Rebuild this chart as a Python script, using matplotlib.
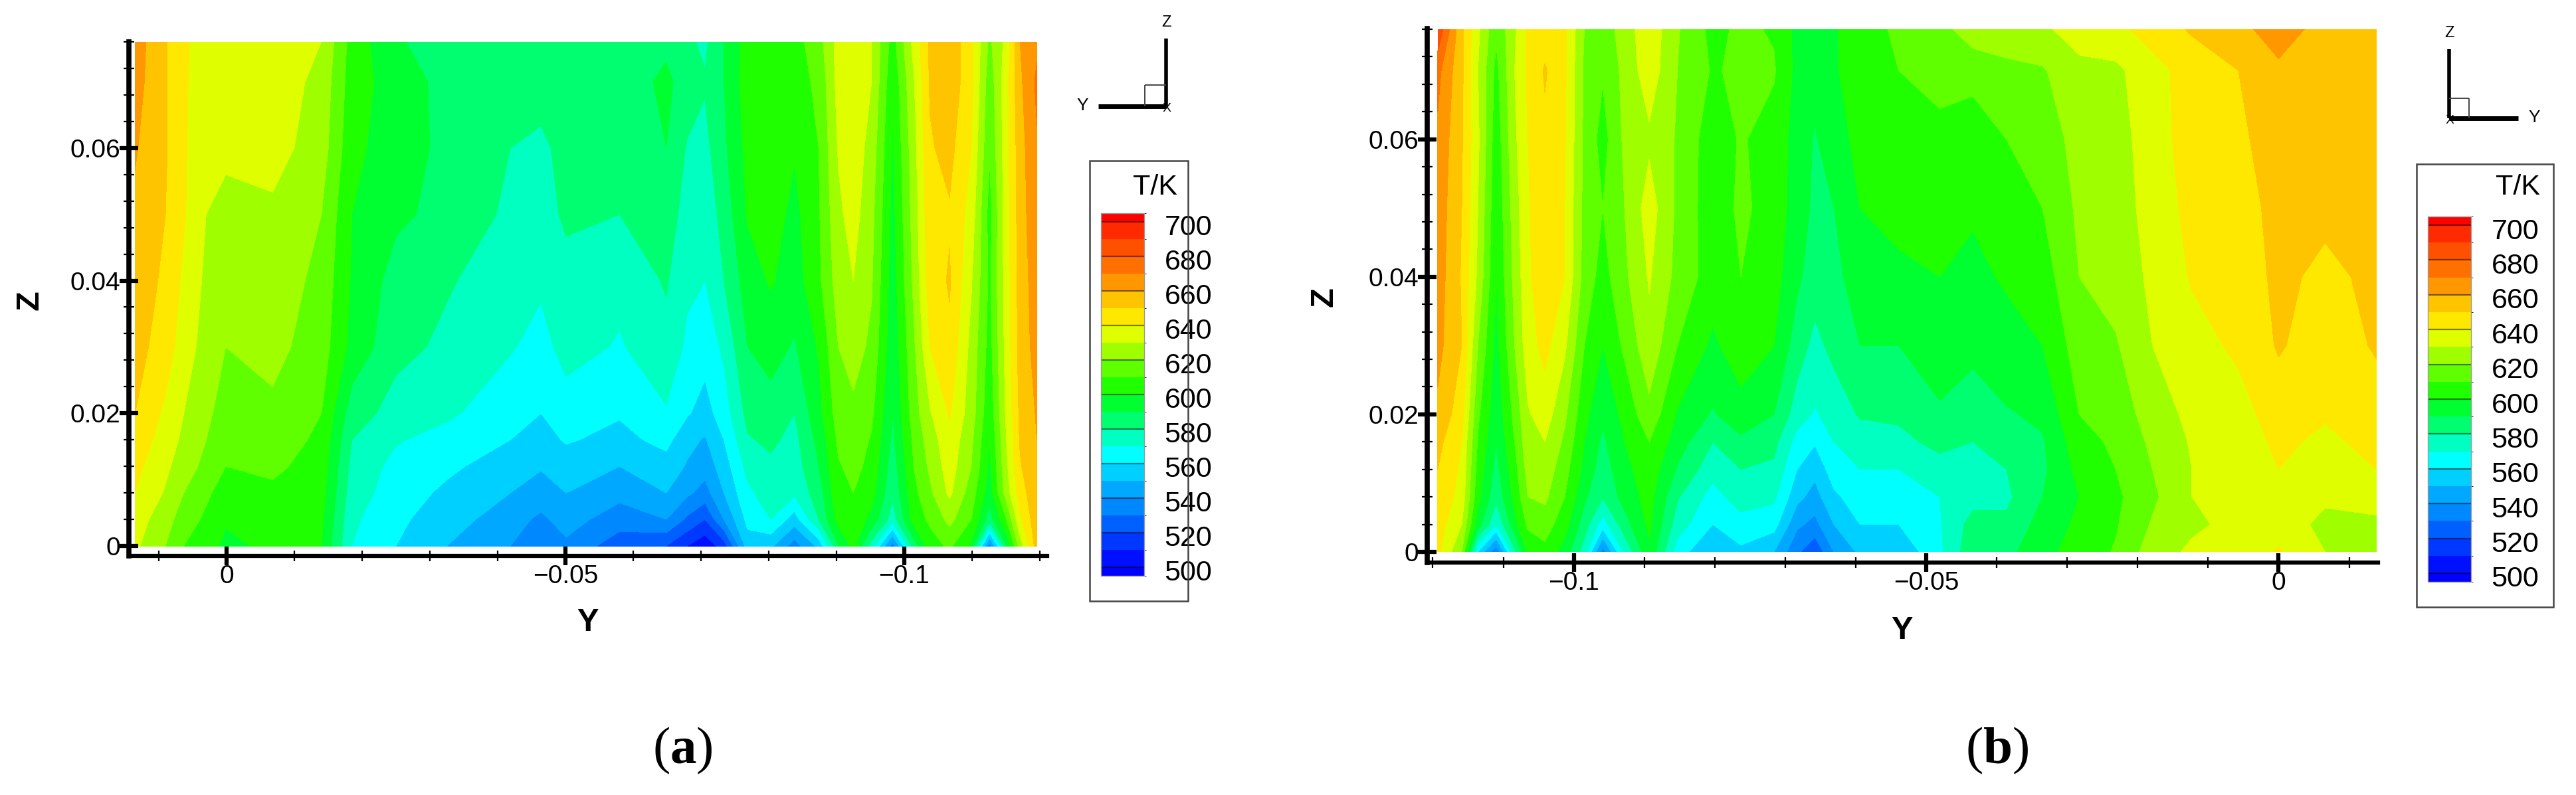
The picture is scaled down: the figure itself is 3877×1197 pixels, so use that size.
import numpy as np
import matplotlib
matplotlib.use('Agg')
import matplotlib.pyplot as plt
from matplotlib.colors import ListedColormap, BoundaryNorm
from matplotlib.lines import Line2D
from matplotlib.patches import Rectangle
from matplotlib.transforms import ScaledTranslation

plt.rcParams['font.family'] = ['Liberation Sans', 'DejaVu Sans']
plt.rcParams['mathtext.fontset'] = 'custom'
plt.rcParams['mathtext.rm'] = 'Liberation Serif'
plt.rcParams['mathtext.bf'] = 'Liberation Serif:bold'

W = 3877
H = 1197

# heights of the rows of temperature readings
z_rows = [0, 0.004, 0.008, 0.012, 0.016, 0.02, 0.03, 0.04, 0.05, 0.06, 0.07, 0.076]

# panel (a): Y position of each column and T/K read along that column, bottom to top
y_cols_a = [0.0135, 0.0090, 0.0063, 0.0030, 0.0001, -0.0068, -0.0140, -0.0185, -0.0250, -0.0325,
            -0.0419, -0.0464, -0.0501, -0.0580, -0.0649, -0.0680, -0.0706, -0.0734,
            -0.0769, -0.0803, -0.0838, -0.0874, -0.0903, -0.0925, -0.0952, -0.0983,
            -0.1014, -0.1038, -0.1067, -0.1099, -0.1126, -0.1151, -0.1171, -0.1196]
temp_cols_a = [
    [632, 635, 640, 643, 647, 650, 654, 656, 658, 661, 664, 665],
    [620, 624, 629, 632, 635, 638, 645, 648, 650, 651, 651, 651],
    [610, 615, 620, 625, 628, 630, 635, 638, 641, 641, 641, 641],
    [604, 608, 612, 617, 620, 622, 626, 628, 630, 634, 636, 637],
    [598, 601, 605, 610, 613, 616, 620, 625, 627, 632, 636, 637],
    [602, 605, 608, 612, 615, 618, 623, 626, 628, 634, 636, 636],
    [600, 602, 604, 606, 608, 610, 615, 617, 620, 625, 627, 630],
    [570, 572, 575, 577, 580, 585, 597, 599, 600, 603, 605, 606],
    [560, 562, 565, 567, 571, 576, 583, 586, 592, 594, 595, 591],
    [550, 555, 558, 562, 566, 572, 578, 581, 587, 588, 587, 586],
    [540, 544, 550, 555, 560, 563, 571, 575, 578, 580, 584, 586],
    [532, 538, 545, 551, 556, 560, 566, 572, 575, 578, 584, 586],
    [538, 544, 550, 555, 561, 565, 574, 576, 582, 583, 587, 586],
    [524, 535, 543, 550, 557, 561, 569, 573, 580, 583, 585, 586],
    [520, 540, 550, 556, 563, 569, 577, 581, 585, 590, 592, 588],
    [510, 528, 542, 549, 553, 561, 568, 572, 576, 579, 586, 582],
    [503, 520, 536, 544, 549, 556, 564, 570, 573, 577, 581, 578],
    [515, 540, 550, 555, 560, 565, 572, 580, 584, 588, 590, 590],
    [555, 563, 568, 573, 579, 583, 590, 595, 601, 603, 605, 604],
    [552, 570, 575, 578, 582, 586, 594, 601, 605, 607, 602, 605],
    [535, 555, 572, 575, 577, 580, 589, 595, 597, 601, 606, 606],
    [553, 580, 585, 590, 593, 597, 601, 608, 609, 610, 612, 616],
    [590, 604, 608, 609, 612, 615, 620, 625, 628, 631, 634, 634],
    [603, 607, 610, 613, 616, 618, 624, 630, 634, 636, 638, 638],
    [575, 597, 604, 607, 609, 612, 618, 621, 623, 626, 630, 630],
    [535, 575, 582, 585, 588, 590, 593, 595, 597, 599, 602, 606],
    [585, 604, 607, 610, 612, 615, 618, 622, 624, 626, 629, 633],
    [605, 612, 618, 622, 625, 629, 640, 645, 647, 649, 651, 652],
    [612, 623, 632, 635, 637, 641, 648, 651, 649, 653, 657, 658],
    [598, 610, 615, 620, 622, 625, 627, 631, 636, 640, 643, 642],
    [535, 585, 595, 598, 600, 603, 606, 608, 606, 611, 614, 618],
    [590, 610, 625, 628, 630, 632, 634, 635, 636, 636, 637, 633],
    [625, 638, 645, 649, 651, 652, 654, 654, 655, 656, 658, 660],
    [655, 657, 658, 659, 660, 661, 664, 666, 668, 669, 672, 668],
]

# panel (b): same readings, Y runs the other way round
y_cols_b = [-0.1193, -0.1159, -0.1136, -0.1110, -0.1084, -0.1065, -0.1041, -0.1013, -0.0985,
            -0.0959, -0.0928, -0.0893, -0.0853, -0.0803, -0.0763, -0.0716, -0.0683, -0.0658,
            -0.0631, -0.0594, -0.0539, -0.0481, -0.0434, -0.0386, -0.0335, -0.0283, -0.0231,
            -0.0179, -0.0123, -0.0057, 0.0, 0.0066, 0.0139]
temp_cols_b = [
    [643, 645, 648, 650, 653, 658, 663, 665, 666, 668, 673, 688],
    [620, 630, 636, 638, 640, 644, 650, 649, 650, 651, 652, 652],
    [560, 595, 603, 606, 609, 612, 620, 628, 630, 632, 630, 632],
    [532, 570, 583, 587, 590, 593, 597, 600, 602, 604, 607, 612],
    [578, 597, 603, 606, 610, 613, 620, 623, 625, 628, 630, 628],
    [602, 612, 620, 624, 627, 629, 636, 638, 639, 640, 642, 642],
    [607, 615, 622, 626, 630, 635, 643, 648, 647, 648, 651, 645],
    [596, 604, 610, 614, 618, 622, 632, 640, 640, 641, 642, 642],
    [575, 585, 592, 597, 600, 603, 610, 616, 617, 618, 618, 620],
    [535, 565, 581, 585, 588, 592, 600, 606, 610, 606, 611, 614],
    [572, 586, 594, 597, 600, 603, 612, 618, 620, 622, 623, 625],
    [598, 602, 604, 606, 610, 617, 627, 631, 635, 628, 636, 637],
    [565, 575, 581, 589, 595, 599, 610, 617, 618, 619, 620, 621],
    [550, 560, 566, 574, 580, 589, 598, 605, 604, 604, 609, 607],
    [558, 566, 575, 580, 588, 596, 606, 610, 612, 611, 612, 612],
    [550, 564, 572, 578, 583, 590, 600, 604, 606, 606, 611, 609],
    [532, 542, 553, 560, 566, 575, 585, 592, 595, 596, 597, 597],
    [522, 537, 546, 553, 561, 569, 577, 585, 588, 589, 594, 596],
    [540, 550, 558, 565, 570, 574, 583, 586, 590, 597, 599, 599],
    [552, 560, 565, 570, 575, 581, 590, 597, 600, 602, 604, 605],
    [552, 560, 566, 570, 577, 582, 590, 598, 603, 605, 610, 612],
    [568, 569, 570, 576, 583, 589, 594, 600, 602, 606, 615, 616],
    [587, 584, 576, 577, 580, 586, 592, 598, 601, 605, 613, 626],
    [587, 582, 578, 580, 585, 589, 597, 601, 606, 610, 617, 627],
    [597, 594, 590, 588, 589, 592, 600, 605, 610, 614, 619, 628],
    [604, 602, 600, 603, 606, 610, 615, 620, 622, 624, 627, 635],
    [611, 609, 608, 610, 612, 615, 619, 624, 625, 626, 628, 637],
    [625, 621, 618, 620, 622, 624, 630, 632, 634, 635, 636, 645],
    [632, 628, 630, 630, 631, 633, 636, 641, 643, 645, 645, 651],
    [634, 633, 633, 634, 635, 636, 642, 645, 646, 648, 650, 657],
    [641, 636, 637, 640, 642, 645, 651, 652, 653, 655, 658, 665],
    [630, 627, 632, 635, 638, 641, 645, 648, 652, 653, 654, 656],
    [626, 627, 636, 640, 643, 646, 651, 652, 654, 654, 655, 659],
]

# contour bands, bottom to top
levels = [495, 500, 510, 520, 530, 540, 550, 560, 570, 580, 590, 600, 610, 620, 630,
          640, 650, 660, 670, 680, 690, 700, 705]
band_colors = ['#0000ff', '#0010ff', '#0038ff', '#0060ff', '#0088ff', '#00a8ff', '#00d0ff',
               '#00ffff', '#00ffc0', '#00ff70', '#00ff30', '#20ff00', '#60ff00', '#9fff00',
               '#dfff00', '#ffe800', '#ffc400', '#ff9800', '#ff7000', '#ff5000', '#ff2a00',
               '#ff0000']
legend_ticks = [500, 520, 540, 560, 580, 600, 620, 640, 660, 680, 700]

z_ticks = [0, 0.02, 0.04, 0.06]
z_tick_labels = ['0', '0.02', '0.04', '0.06']
y_ticks_a = [0, -0.05, -0.1]
y_tick_labels_a = ['0', '\u22120.05', '\u22120.1']
y_ticks_b = [-0.1, -0.05, 0]
y_tick_labels_b = ['\u22120.1', '\u22120.05', '0']
z_minor = [0.004 * i for i in range(20)]
y_minor = [0.01 * i for i in range(-12, 2)]


def fx(x):
    return x / W


def fy(y):
    return 1 - y / H


def add_axes_px(fig, left, top, right, bottom):
    return fig.add_axes([fx(left), fy(bottom), (right - left) / W, (bottom - top) / H])


def fig_text(fig, x, y, s, **kw):
    fig.text(fx(x), fy(y), s, ha=kw.pop('ha', 'center'), va=kw.pop('va', 'center'), **kw)


def fig_line(fig, xs, ys, lw, color='black'):
    fig.add_artist(Line2D([fx(x) for x in xs], [fy(y) for y in ys], lw=lw, color=color,
                          transform=fig.transFigure, solid_capstyle='butt'))


'''
Draw one contour panel: filled field, the two axis lines with ticks and the axis names
box is the axes area in pixels (left, top, right, bottom), xlim and ylim its data range
'''
def draw_panel(fig, box, xlim, ylim, y_cols, temp_cols, xticks, xlabels, ylabel_xy, zlabel_xy):
    ax = add_axes_px(fig, *box)
    temps = np.array(temp_cols).T
    cf = ax.contourf(y_cols, z_rows, temps, levels=levels, cmap=cmap, norm=norm)
    ax.set_xlim(*xlim)
    ax.set_ylim(*ylim)
    for s in ['top', 'right']:
        ax.spines[s].set_visible(False)
    ax.spines['left'].set_linewidth(5.5)
    ax.spines['bottom'].set_linewidth(4.5)
    ax.set_xticks(xticks)
    ax.set_xticklabels(xlabels)
    ax.set_yticks(z_ticks)
    ax.set_yticklabels(z_tick_labels)
    ax.set_xticks(y_minor, minor=True)
    ax.set_yticks(z_minor, minor=True)
    ax.tick_params(which='major', direction='inout', length=20, width=4.5, labelsize=28, pad=-1)
    ax.tick_params(which='minor', direction='inout', length=11, width=1.6)
    fig_text(fig, ylabel_xy[0], ylabel_xy[1], 'Y', fontsize=35, fontweight='bold')
    fig_text(fig, zlabel_xy[0], zlabel_xy[1], 'Z', fontsize=35, fontweight='bold', rotation=90)
    return cf


'''
Legend box with the stepped colour bar, box and bar are in pixels
'''
def draw_legend(fig, cf, box, bar, title_xy):
    left, top, right, bottom = box
    fig.add_artist(Rectangle((fx(left), fy(bottom)), (right - left) / W, (bottom - top) / H,
                             transform=fig.transFigure, fill=False, ec='#444444', lw=1.8))
    cax = add_axes_px(fig, *bar)
    cb = fig.colorbar(cf, cax=cax, spacing='proportional', ticks=legend_ticks)
    cb.outline.set_edgecolor('#999999')
    cb.outline.set_linewidth(1)
    cax.tick_params(length=0, labelsize=31, pad=22)
    for v in legend_ticks:
        cax.axhline(v, color='black', alpha=0.5, lw=1.6)
    # tick labels sit a little under their lines
    shift = ScaledTranslation(0, -5 / 100, fig.dpi_scale_trans)
    for lab in cax.get_yticklabels():
        lab.set_transform(lab.get_transform() + shift)
    fig_text(fig, title_xy[0], title_xy[1], 'T/K', fontsize=31, ha='right')


'''
Small axis triad: corner pixel, length of both arms, direction of the Y arm
'''
def draw_triad(fig, corner, size, side, arm, y_dir, y_gap):
    cx, cy = corner
    fig_line(fig, [cx, cx], [cy - arm, cy], 4)
    fig_line(fig, [cx, cx + y_dir * arm], [cy, cy], 5)
    fig_line(fig, [cx + y_dir * side, cx + y_dir * side], [cy - side, cy], 1.4, '#444444')
    fig_line(fig, [cx, cx + y_dir * side], [cy - side, cy - side], 1.4, '#444444')
    fig_text(fig, cx, cy - arm - size, 'Z', fontsize=17)
    fig_text(fig, cx + y_dir * (arm + y_gap), cy - 1, 'Y', fontsize=19)
    fig_text(fig, cx + 1, cy + 4, 'X', fontsize=14)


cmap = ListedColormap(band_colors)
norm = BoundaryNorm(levels, cmap.N)

fig = plt.figure(figsize=(W / 100, H / 100), dpi=100)

cf_a = draw_panel(fig, (194, 63, 1576, 837), (0.0144, -0.1211), (-0.0015, 0.076),
                  y_cols_a, temp_cols_a, y_ticks_a, y_tick_labels_a, (884, 937), (45, 452))
draw_legend(fig, cf_a, (1640, 242, 1788, 905), (1657, 321, 1722, 867), (1772, 282))
draw_triad(fig, (1755, 160), 24, 32, 102, -1, 24)

cf_b = draw_panel(fig, (2148, 43, 3579, 847), (-0.1208, 0.0141), (-0.00155, 0.0761),
                  y_cols_b, temp_cols_b, y_ticks_b, y_tick_labels_b, (2862, 949), (1993, 447))
draw_legend(fig, cf_b, (3637, 247, 3843, 914), (3654, 326, 3719, 876), (3823, 282))
draw_triad(fig, (3686, 178), 24, 30, 104, 1, 24)

mathbold = {'family': 'Liberation Serif', 'fontsize': 57}
fig_text(fig, 1027, 1130, r'($\mathbf{a}$)', **mathbold)
fig_text(fig, 3006, 1130, r'($\mathbf{b}$)', **mathbold)

fig.savefig('out.png', dpi=100)
